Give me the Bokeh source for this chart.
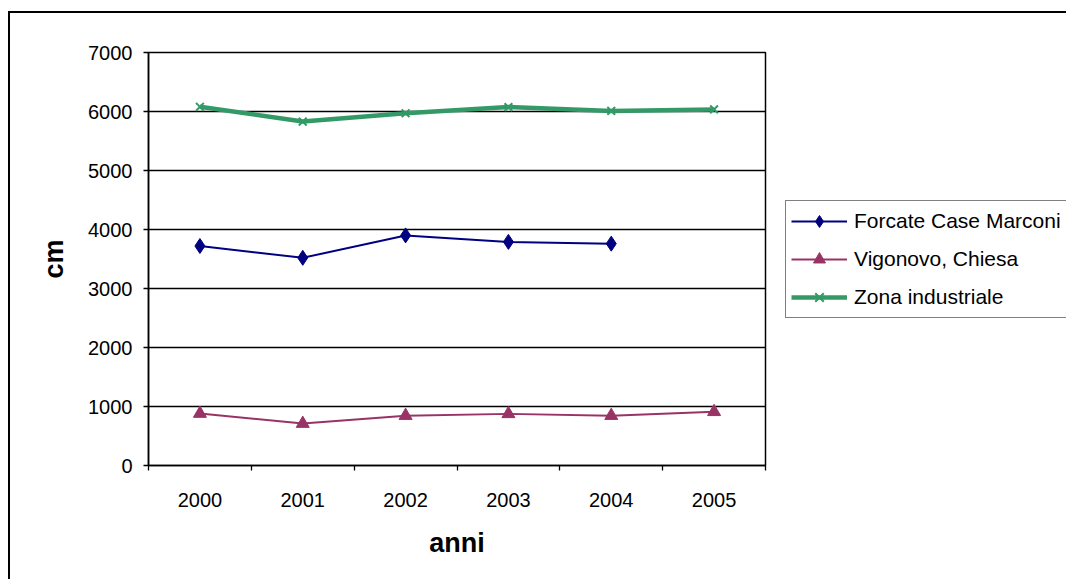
import numpy as np
from bokeh.plotting import figure
from bokeh.models import FixedTicker, Legend, LegendItem, ColumnDataSource
from bokeh.embed import file_html
from bokeh.resources import INLINE

years = ["2000", "2001", "2002", "2003", "2004", "2005"]
forcate = [3720, 3520, 3900, 3790, 3760, np.nan]
vigonovo = [880, 710, 845, 875, 845, 910]
zona = [6080, 5830, 5970, 6075, 6010, 6035]
series_names = ["Forcate Case Marconi", "Vigonovo, Chiesa", "Zona industriale"]
y_ticks = [0, 1000, 2000, 3000, 4000, 5000, 6000, 7000]

xpos = [i + 0.5 for i in range(len(years))]
src = ColumnDataSource(dict(x=xpos, f=forcate, v=vigonovo, z=zona))

FONT = "Liberation Sans"

p = figure(frame_width=617, frame_height=413, x_range=(0, len(years)), y_range=(0, 7000),
           output_backend="svg", toolbar_location=None,
           min_border_left=138, min_border_right=0, min_border_top=39, min_border_bottom=114,
           styles={"margin-left": "8px", "margin-top": "11px",
                   "border-left": "2px solid black", "border-top": "2px solid black"})
p.outline_line_color = "black"
p.outline_line_width = 1.5
p.background_fill_color = "white"
p.border_fill_color = "white"

# grids
p.xgrid.visible = False
p.ygrid.ticker = FixedTicker(ticks=y_ticks)
p.ygrid.grid_line_color = "black"
p.ygrid.grid_line_width = 1.3

# y axis
p.yaxis.ticker = FixedTicker(ticks=y_ticks)
p.yaxis.major_tick_out = 5
p.yaxis.major_tick_in = 0
p.yaxis.minor_tick_line_color = None
p.yaxis.axis_line_color = "black"
p.yaxis.axis_line_width = 1.5
p.yaxis.major_tick_line_width = 1.3
p.yaxis.major_label_text_font = FONT
p.yaxis.major_label_text_font_size = "20px"
p.yaxis.major_label_text_color = "black"
p.yaxis.major_label_standoff = 11
p.yaxis.axis_label = "cm"
p.yaxis.axis_label_text_font = FONT
p.yaxis.axis_label_text_font_style = "bold"
p.yaxis.axis_label_text_font_size = "27px"
p.yaxis.axis_label_text_color = "black"
p.yaxis.axis_label_standoff = 16

# x axis: labels at category centres, tick marks at boundaries (minor ticks)
p.xaxis.ticker = FixedTicker(ticks=xpos, minor_ticks=list(range(len(years) + 1)))
p.xaxis.major_label_overrides = {x: y for x, y in zip(xpos, years)}
p.xaxis.major_tick_out = 0
p.xaxis.major_tick_in = 0
p.xaxis.minor_tick_out = 5
p.xaxis.minor_tick_in = 0
p.xaxis.minor_tick_line_color = "black"
p.xaxis.minor_tick_line_width = 1.3
p.xaxis.axis_line_color = "black"
p.xaxis.axis_line_width = 1.5
p.xaxis.major_label_text_font = FONT
p.xaxis.major_label_text_font_size = "20px"
p.xaxis.major_label_text_color = "black"
p.xaxis.major_label_standoff = 22
p.xaxis.axis_label = "anni"
p.xaxis.axis_label_text_font = FONT
p.xaxis.axis_label_text_font_style = "bold"
p.xaxis.axis_label_text_font_size = "27px"
p.xaxis.axis_label_text_color = "black"
p.xaxis.axis_label_standoff = 18

c_f, c_v, c_z = "#000080", "#993366", "#339966"

lf = p.line("x", "f", source=src, line_color=c_f, line_width=2)
mf = p.scatter("x", "f", source=src, marker="diamond", size=15, fill_color=c_f, line_color=c_f)
lv = p.line("x", "v", source=src, line_color=c_v, line_width=2)
mv = p.scatter("x", "v", source=src, marker="triangle", size=13, fill_color=c_v, line_color=c_v)
lz = p.line("x", "z", source=src, line_color=c_z, line_width=4.5)
mz = p.scatter("x", "z", source=src, marker="x", size=11, line_color=c_z, line_width=2)

legend = Legend(items=[
    LegendItem(label=series_names[0], renderers=[lf, mf]),
    LegendItem(label=series_names[1], renderers=[lv, mv]),
    LegendItem(label=series_names[2], renderers=[lz, mz]),
], location="left")
legend.label_text_font = FONT
legend.label_text_font_size = "21px"
legend.label_text_color = "black"
legend.glyph_width = 56
legend.glyph_height = 30
legend.label_height = 30
legend.spacing = 8
legend.padding = 5
legend.margin = 20
legend.label_standoff = 7
legend.border_line_color = "black"
legend.border_line_width = 1.5
legend.background_fill_color = "white"
legend.background_fill_alpha = 1.0
p.add_layout(legend, "right")

html = file_html(p, INLINE)
html = html.replace("<body>", '<body style="margin:0;overflow:hidden">', 1)
open("out.html", "w").write(html)
